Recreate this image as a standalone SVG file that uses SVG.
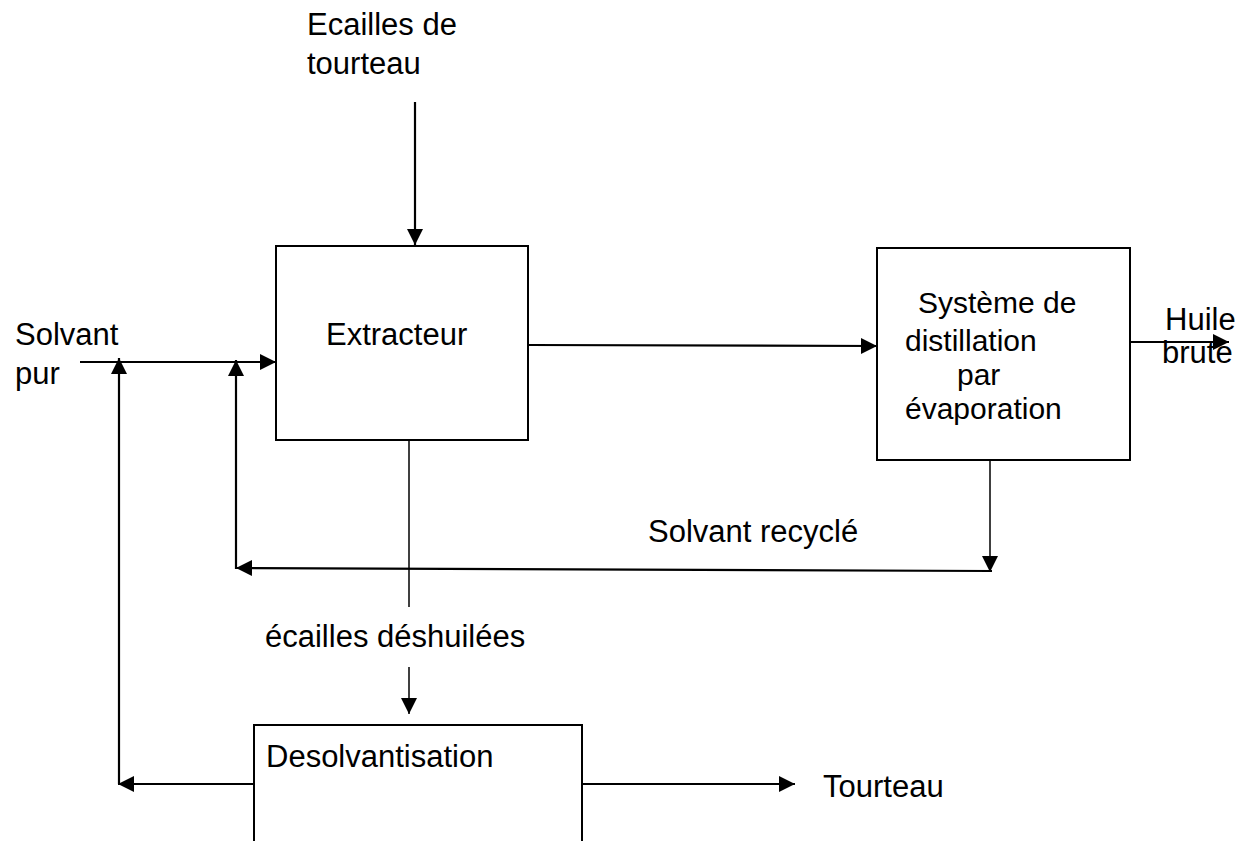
<svg xmlns="http://www.w3.org/2000/svg" width="1244" height="841" viewBox="0 0 1244 841">
<style>
text{font-family:"Liberation Sans",Arial,sans-serif;font-size:31px;fill:#000}
.sm{font-size:30px}
.box{fill:#fff;stroke:#000;stroke-width:2}
.ln{fill:none;stroke:#000;stroke-width:2.2}
.thin{fill:none;stroke:#000;stroke-width:1.5}
</style>
<defs>
<marker id="ah" viewBox="0 0 16 16" refX="16" refY="8" markerWidth="16" markerHeight="17" markerUnits="userSpaceOnUse" orient="auto">
<path d="M0,0 L16,8 L0,16 z" fill="#000"/>
</marker>
</defs>
<rect width="1244" height="841" fill="#fff"/>
<g id="connectors">
<line class="ln" x1="415" y1="102" x2="415" y2="245" marker-end="url(#ah)"/>
<line class="ln" x1="80" y1="362" x2="276" y2="362" marker-end="url(#ah)"/>
<line class="ln" x1="119" y1="784" x2="119" y2="358" marker-end="url(#ah)"/>
<line class="ln" x1="236" y1="569" x2="236" y2="360" marker-end="url(#ah)"/>
<line class="ln" x1="528" y1="345" x2="877" y2="346" marker-end="url(#ah)"/>
<line class="ln" x1="1130" y1="342" x2="1229" y2="342" marker-end="url(#ah)"/>
<line class="thin" x1="990" y1="460" x2="990" y2="572" marker-end="url(#ah)"/>
<line class="ln" x1="992" y1="571" x2="236" y2="568" marker-end="url(#ah)"/>
<line class="thin" x1="409" y1="440" x2="409" y2="607"/>
<line class="thin" x1="409" y1="667" x2="409" y2="714" marker-end="url(#ah)"/>
<line class="ln" x1="254" y1="784" x2="118" y2="784" marker-end="url(#ah)"/>
<line class="ln" x1="582" y1="784" x2="795" y2="784" marker-end="url(#ah)"/>
</g>
<g id="extracteur">
<rect class="box" x="276" y="246" width="252" height="194"/>
<text x="326" y="345">Extracteur</text>
</g>
<g id="distillation">
<rect class="box" x="877" y="248" width="253" height="212"/>
<text class="sm" x="918" y="313">Système de</text>
<text class="sm" x="905" y="351">distillation</text>
<text class="sm" x="957" y="385">par</text>
<text class="sm" x="905" y="419">évaporation</text>
</g>
<g id="desolvantisation">
<rect class="box" x="254" y="725" width="328" height="140"/>
<text x="266" y="767">Desolvantisation</text>
</g>
<g id="labels">
<text x="307" y="35">Ecailles de</text>
<text x="307" y="74">tourteau</text>
<text x="15" y="345">Solvant</text>
<text x="15" y="384">pur</text>
<text x="1165" y="330">Huile</text>
<text x="1162" y="363">brute</text>
<text x="648" y="542">Solvant recyclé</text>
<text x="265" y="647">écailles déshuilées</text>
<text x="823" y="797">Tourteau</text>
</g>
</svg>
